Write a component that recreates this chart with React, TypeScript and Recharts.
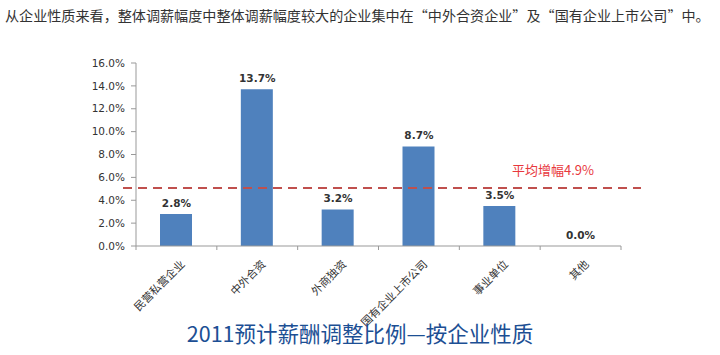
import React from "react";
import { ComposedChart, Bar, Line, XAxis, YAxis, ReferenceLine, LabelList } from "recharts";

const categories = ["民营私营企业", "中外合资", "外商独资", "国有企业上市公司", "事业单位", "其他"];
const adjustRates = [2.8, 13.7, 3.2, 8.7, 3.5, 0.0];
const yTicks = [0, 2, 4, 6, 8, 10, 12, 14, 16];
const averageRate = 4.9;
const averageLabel = "平均增幅4.9%";
const headline = "从企业性质来看，整体调薪幅度中整体调薪幅度较大的企业集中在“中外合资企业”及“国有企业上市公司”中。";
const title = "2011预计薪酬调整比例—按企业性质";

const data = categories.map((name, i) => ({ name, value: adjustRates[i] }));

const CJK = '"Noto Sans CJK SC", "Noto Sans", sans-serif';
const BAND = 485 / 6;

const CategoryTick = ({ x, y, payload, index }: any) => {
  const ax = x + 9;
  const ay = y + 11;
  return (
    <g>
      <line x1={x - BAND / 2} y1={y - 8} x2={x - BAND / 2} y2={y - 4} stroke="#999" />
      {index === categories.length - 1 && (
        <line x1={x + BAND / 2} y1={y - 8} x2={x + BAND / 2} y2={y - 4} stroke="#999" />
      )}
      <text
        x={ax}
        y={ay}
        textAnchor="end"
        transform={`rotate(-45 ${ax} ${ay})`}
        fontSize={11}
        fontFamily={CJK}
        fill="#333"
      >
        {payload.value}
      </text>
    </g>
  );
};

// labels hang off an invisible line so the zero value still gets one
const ValueLabel = ({ x, y, value }: any) => (
  <text
    x={x}
    y={y - 7}
    textAnchor="middle"
    fontSize={10.5}
    fontFamily="DejaVu Sans"
    fontWeight={600}
    fill="#333"
  >
    {Number(value).toFixed(1) + "%"}
  </text>
);

const AverageLine = (props: any) => {
  const { x1, x2, y1 } = props;
  return (
    <g>
      <line x1={x1 - 13} y1={y1 - 2} x2={x2 + 20} y2={y1 - 2} stroke="#c0504d" strokeWidth={2} strokeDasharray="9 6" />
      <text x={553} y={y1 - 15} textAnchor="middle" fontSize={13} fontFamily={CJK} fill="#e8383d">
        {averageLabel}
      </text>
    </g>
  );
};

export default function App() {
  return (
    <div style={{ position: "absolute", left: 0, top: 0, width: 720, height: 355, background: "#fff" }}>
      <div
        style={{
          position: "absolute",
          left: 5,
          top: 5,
          fontSize: 14.1,
          fontFamily: CJK,
          color: "#333",
          whiteSpace: "nowrap",
        }}
      >
        {headline}
      </div>
      <ComposedChart width={720} height={355} data={data} margin={{ top: 63, right: 99, bottom: 0, left: 76 }}>
        <XAxis
          dataKey="name"
          tick={<CategoryTick />}
          tickLine={false}
          axisLine={{ stroke: "#999" }}
          interval={0}
          height={109}
        />
        <YAxis
          domain={[0, 16]}
          ticks={yTicks}
          width={60}
          tickFormatter={(v: number) => v.toFixed(1) + "%"}
          tick={{ fontSize: 10.5, fill: "#333", fontFamily: "DejaVu Sans", dx: -4 }}
          tickLine={{ stroke: "#999" }}
          tickSize={5}
          axisLine={{ stroke: "#999" }}
        />
        <Bar dataKey="value" fill="#4f81bd" barSize={32} isAnimationActive={false} />
        <Line dataKey="value" stroke="none" dot={false} activeDot={false} isAnimationActive={false}>
          <LabelList dataKey="value" content={<ValueLabel />} />
        </Line>
        <ReferenceLine y={averageRate} shape={<AverageLine />} />
      </ComposedChart>
      <div
        style={{
          position: "absolute",
          left: 0,
          width: 720,
          top: 317,
          textAlign: "center",
          fontSize: 21.5,
          fontFamily: CJK,
          color: "#1c4f94",
        }}
      >
        {title}
      </div>
    </div>
  );
}
